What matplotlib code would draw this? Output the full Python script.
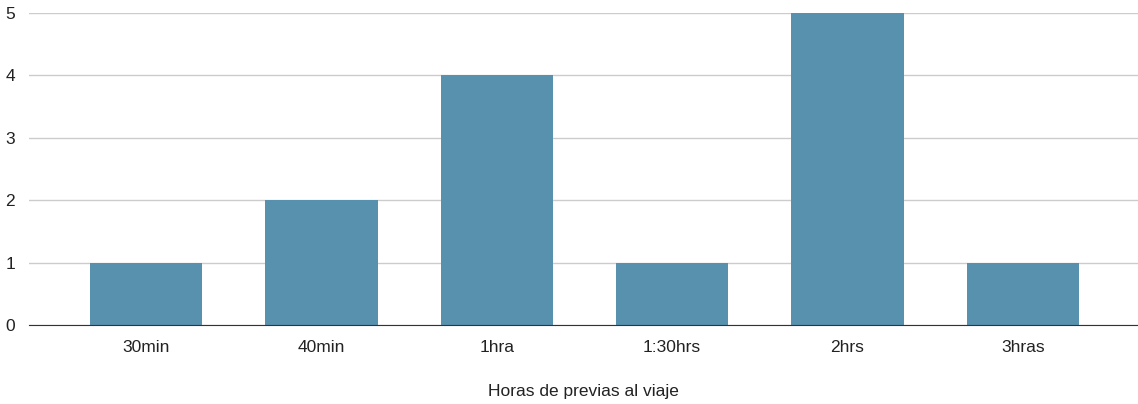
import matplotlib
matplotlib.use("Agg")
import matplotlib.pyplot as plt

categories = ["30min", "40min", "1hra", "1:30hrs", "2hrs", "3hras"]
values = [1, 2, 4, 1, 5, 1]
y_ticks = [0, 1, 2, 3, 4, 5]
x_title = "Horas de previas al viaje"

plt.rcParams['font.family'] = ['Liberation Sans', 'DejaVu Sans']

fig = plt.figure(figsize=(11.38, 4.04), dpi=100)
ax = fig.add_axes([29/1138, 79/404, 1 - 29/1138, (325-13)/404])

x = list(range(len(categories)))
ax.bar(x, values, width=0.64, color="#5891ad", zorder=3)

ax.set_xlim(-0.667, 5.656)
ax.set_ylim(0, 5)
ax.set_yticks(y_ticks)
ax.set_xticks(x)
ax.set_xticklabels(categories)
ax.yaxis.grid(True, color="#cccccc", linewidth=1, zorder=0)
for s in ["top", "right", "left"]:
    ax.spines[s].set_visible(False)
ax.spines["bottom"].set_color("#333333")
ax.spines["bottom"].set_zorder(4)
ax.tick_params(axis="both", length=0, labelsize=12.5, colors="#222222")
ax.tick_params(axis="x", pad=11)
ax.tick_params(axis="y", pad=10)
ax.set_xlabel(x_title, fontsize=12.5, color="#222222", labelpad=21)

fig.savefig("out.png", dpi=100)
